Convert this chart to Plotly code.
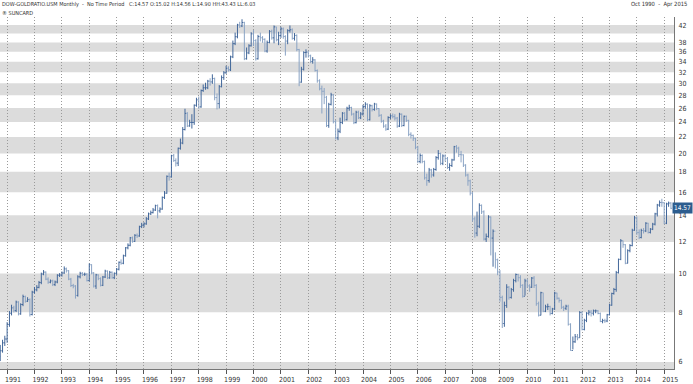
import math
import pandas as pd
import plotly.graph_objects as go

# ---------------- data (monthly, Oct 1990 .. Apr 2015) ----------------
dates = pd.date_range("1990-10-01", "2015-04-01", freq="MS")

opens = [6.20, 6.40, 6.70,
 6.85, 7.45, 7.95, 8.20, 8.07, 8.48, 7.92, 8.36, 8.75, 8.52, 8.60, 7.89,
 8.98, 9.10, 9.23, 9.49, 9.97, 10.08, 9.68, 9.51, 9.58, 9.38, 9.52, 9.90,
 9.91, 10.03, 10.27, 10.16, 9.68, 9.33, 9.30, 8.81, 9.81, 10.01, 9.95, 9.96,
 9.60, 10.52, 10.03, 9.30, 9.92, 9.71, 9.34, 9.80, 10.14, 9.75, 10.07, 9.76,
 10.01, 10.25, 10.67, 10.61, 11.08, 11.60, 11.77, 12.29, 12.04, 12.47, 12.42, 13.11,
 13.22, 13.32, 13.71, 14.11, 14.21, 14.43, 14.80, 14.36, 14.51, 15.52, 15.91, 17.53,
 17.47, 19.75, 19.21, 18.92, 20.61, 21.25, 22.97, 25.22, 23.45, 23.93, 23.93, 26.43,
 27.27, 26.18, 28.77, 29.24, 29.24, 30.38, 30.24, 30.84, 27.62, 26.68, 29.42, 31.01,
 31.88, 32.72, 32.42, 34.95, 37.72, 39.26, 42.03, 41.78, 42.63, 34.57, 35.76, 37.25,
 39.92, 38.39, 34.57, 39.29, 39.03, 38.68, 36.15, 37.99, 40.49, 39.01, 41.56, 38.57,
 39.51, 41.08, 39.31, 38.29, 40.66, 40.87, 38.90, 39.56, 36.45, 30.20, 32.53, 35.83,
 35.92, 35.18, 34.03, 34.34, 32.29, 30.44, 29.07, 28.65, 27.68, 23.50, 26.57, 28.06,
 24.04, 21.89, 22.74, 23.93, 25.24, 24.31, 25.97, 26.08, 25.11, 23.90, 25.39, 24.58,
 25.13, 26.22, 26.59, 24.31, 26.35, 25.79, 26.62, 25.93, 24.94, 24.11, 23.43, 23.02,
 24.62, 24.86, 24.75, 24.54, 23.43, 25.10, 23.51, 24.80, 24.21, 22.34, 22.21, 21.83,
 20.73, 19.09, 19.77, 19.09, 17.38, 17.10, 18.19, 17.67, 18.24, 19.53, 20.00, 18.89,
 19.72, 19.42, 18.45, 18.66, 19.27, 20.81, 20.63, 19.87, 19.85, 18.70, 17.66, 17.08,
 15.91, 13.71, 12.63, 13.14, 14.82, 14.28, 12.20, 12.39, 13.86, 12.27, 12.77, 10.83,
 10.09, 8.71, 7.49, 8.31, 9.24, 8.71, 9.11, 9.60, 9.94, 9.76, 9.34, 8.77,
 9.58, 9.31, 9.24, 9.74, 9.34, 8.40, 7.86, 8.95, 8.04, 8.25, 8.26, 7.94,
 8.15, 8.93, 8.67, 8.56, 8.23, 8.18, 8.28, 7.46, 6.41, 6.74, 6.94, 6.90,
 7.98, 7.24, 7.63, 7.95, 8.00, 7.95, 8.06, 8.06, 7.94, 7.58, 7.62, 7.60,
 7.88, 8.33, 8.91, 9.12, 10.05, 10.85, 12.08, 11.81, 10.61, 11.41, 11.75, 12.84,
 13.79, 12.66, 12.31, 12.82, 12.79, 13.37, 12.68, 12.92, 13.30, 14.11, 14.85, 15.07,
 15.05, 13.37, 14.95, 15.02]

highs = [6.62, 6.82, 6.98,
 7.55, 8.05, 8.35, 8.30, 8.55, 8.52, 8.42, 8.85, 8.80, 8.72, 8.66, 9.05,
 9.25, 9.35, 9.58, 10.05, 10.20, 10.12, 9.78, 9.66, 9.65, 9.60, 9.96, 10.02,
 10.12, 10.42, 10.35, 10.20, 9.75, 9.42, 9.35, 9.90, 10.10, 10.08, 10.05, 10.02,
 10.60, 10.55, 10.08, 9.98, 9.95, 9.78, 9.86, 10.22, 10.18, 10.15, 10.12, 10.06,
 10.32, 10.72, 10.85, 11.15, 11.65, 11.90, 12.35, 12.38, 12.55, 12.60, 13.18, 13.40,
 13.45, 13.85, 14.22, 14.38, 14.60, 14.88, 14.90, 14.65, 15.60, 16.10, 17.62, 17.90,
 19.85, 19.95, 19.45, 20.70, 21.80, 23.30, 25.90, 25.40, 24.30, 25.10, 26.55, 27.60,
 27.80, 28.95, 29.80, 30.10, 30.60, 30.90, 31.60, 31.00, 28.30, 29.70, 31.40, 32.20,
 33.20, 33.10, 35.20, 38.40, 40.20, 42.30, 42.80, 43.43, 42.80, 36.90, 37.60, 40.30,
 40.80, 38.70, 39.70, 40.20, 39.40, 38.90, 38.40, 40.80, 40.90, 41.90, 41.60, 40.40,
 41.60, 41.40, 39.60, 41.00, 41.90, 41.20, 40.10, 39.80, 36.60, 33.00, 36.10, 36.50,
 36.20, 35.40, 34.90, 34.50, 32.50, 30.70, 29.60, 29.20, 27.90, 26.80, 28.40, 28.20,
 24.30, 23.10, 24.60, 25.40, 25.40, 26.20, 26.50, 26.20, 25.30, 25.60, 25.60, 25.40,
 26.50, 26.90, 26.70, 26.60, 26.50, 26.80, 26.70, 26.00, 25.10, 24.30, 23.70, 24.80,
 25.10, 25.20, 25.10, 24.70, 25.30, 25.20, 24.90, 24.90, 24.30, 22.60, 22.30, 21.90,
 20.90, 20.00, 19.90, 19.20, 17.80, 18.40, 18.30, 18.40, 19.70, 20.40, 20.10, 19.90,
 19.90, 19.60, 18.90, 19.40, 20.90, 21.00, 20.80, 20.30, 19.90, 18.80, 17.80, 17.20,
 16.00, 13.90, 14.30, 15.00, 14.90, 14.40, 12.60, 14.00, 13.90, 12.90, 11.30, 10.90,
 10.20, 8.80, 8.50, 9.40, 9.30, 9.20, 9.70, 10.00, 9.98, 9.90, 9.40, 9.70,
 9.70, 9.40, 9.80, 9.85, 9.40, 8.50, 9.00, 8.95, 8.35, 8.40, 8.30, 8.20,
 9.00, 8.95, 8.70, 8.60, 8.30, 8.35, 8.35, 7.50, 6.95, 7.05, 7.05, 8.05,
 8.05, 7.70, 8.00, 8.10, 8.10, 8.12, 8.12, 8.10, 7.98, 7.70, 7.70, 7.92,
 8.40, 8.95, 9.20, 10.15, 10.90, 12.20, 12.10, 11.85, 11.50, 11.85, 12.95, 13.95,
 13.90, 12.90, 12.95, 13.00, 13.45, 13.40, 13.00, 13.40, 14.20, 14.95, 15.25, 15.40,
 15.10, 15.05, 15.15, 15.10]

lows = [6.03, 6.33, 6.58,
 6.70, 7.35, 7.85, 7.98, 8.00, 7.85, 7.88, 8.28, 8.45, 8.48, 7.80, 7.85,
 8.90, 9.02, 9.18, 9.40, 9.90, 9.62, 9.42, 9.45, 9.30, 9.30, 9.45, 9.80,
 9.82, 9.98, 10.05, 9.62, 9.25, 9.18, 8.65, 8.75, 9.72, 9.85, 9.86, 9.55,
 9.55, 9.95, 9.22, 9.15, 9.62, 9.28, 9.30, 9.74, 9.68, 9.70, 9.70, 9.68,
 9.92, 10.18, 10.52, 10.55, 11.02, 11.50, 11.70, 11.95, 12.00, 12.28, 12.36, 13.00,
 13.05, 13.25, 13.62, 14.02, 14.15, 14.35, 13.75, 14.20, 14.45, 15.38, 15.85, 17.10,
 17.40, 19.05, 18.55, 18.60, 20.45, 21.10, 22.85, 23.30, 23.35, 23.10, 23.60, 26.20,
 25.90, 26.05, 28.55, 28.90, 29.00, 29.60, 29.90, 27.20, 25.80, 25.95, 29.30, 30.60,
 31.70, 32.10, 32.20, 34.70, 37.40, 38.90, 41.30, 41.50, 34.30, 34.40, 35.50, 37.10,
 37.20, 34.20, 34.40, 38.20, 37.90, 35.90, 35.80, 37.80, 38.60, 37.80, 38.20, 37.40,
 39.00, 38.80, 35.20, 37.60, 40.20, 38.60, 38.40, 36.10, 29.50, 30.10, 32.30, 34.80,
 34.80, 33.70, 33.60, 32.10, 30.10, 28.80, 25.20, 26.60, 23.30, 23.20, 26.40, 23.80,
 21.70, 21.60, 22.50, 23.70, 24.10, 24.20, 25.60, 24.90, 23.70, 23.80, 24.40, 24.40,
 24.90, 25.90, 24.10, 24.20, 25.50, 25.60, 25.70, 24.70, 23.90, 23.20, 22.80, 22.90,
 24.40, 24.50, 24.20, 23.20, 23.30, 23.30, 23.40, 24.00, 22.10, 21.80, 21.50, 20.50,
 18.90, 18.90, 18.90, 17.20, 16.60, 16.90, 17.40, 17.50, 18.10, 19.30, 18.70, 18.70,
 19.10, 18.30, 18.10, 18.50, 19.20, 20.10, 19.60, 19.00, 18.50, 17.50, 16.60, 15.70,
 13.50, 12.30, 12.40, 13.00, 14.10, 12.10, 12.00, 12.30, 11.10, 10.40, 10.30, 9.90,
 8.50, 7.30, 7.35, 8.20, 8.60, 8.65, 9.00, 9.50, 9.55, 9.20, 8.70, 8.80,
 9.20, 9.00, 9.20, 9.20, 8.30, 7.80, 7.85, 8.00, 8.00, 8.10, 7.85, 7.90,
 8.10, 8.60, 8.45, 8.15, 8.05, 8.10, 7.40, 6.40, 6.45, 6.70, 6.80, 6.90,
 7.20, 7.20, 7.55, 7.85, 7.80, 7.85, 7.95, 7.90, 7.55, 7.50, 7.52, 7.55,
 7.85, 8.30, 8.85, 9.00, 10.00, 10.80, 11.60, 10.55, 10.60, 11.30, 11.70, 12.80,
 12.50, 12.20, 12.25, 12.60, 12.70, 12.60, 12.60, 12.85, 13.20, 13.90, 14.70, 14.70,
 13.30, 13.30, 14.70, 14.50]

closes = [6.40, 6.70, 6.85,
 7.45, 7.95, 8.20, 8.07, 8.48, 7.92, 8.36, 8.75, 8.52, 8.60, 7.89, 8.98,
 9.10, 9.23, 9.49, 9.97, 10.08, 9.68, 9.51, 9.58, 9.38, 9.52, 9.90, 9.91,
 10.03, 10.27, 10.16, 9.68, 9.33, 9.30, 8.81, 9.81, 10.01, 9.95, 9.96, 9.60,
 10.52, 10.03, 9.30, 9.92, 9.71, 9.34, 9.80, 10.14, 9.75, 10.07, 9.76, 10.01,
 10.25, 10.67, 10.61, 11.08, 11.60, 11.77, 12.29, 12.04, 12.47, 12.42, 13.11, 13.22,
 13.32, 13.71, 14.11, 14.21, 14.43, 14.80, 14.36, 14.51, 15.52, 15.91, 17.53, 17.47,
 19.75, 19.21, 18.92, 20.61, 21.25, 22.97, 25.22, 23.45, 23.93, 23.93, 26.43, 27.27,
 26.18, 28.77, 29.24, 29.24, 30.38, 30.24, 30.84, 27.62, 26.68, 29.42, 31.01, 31.88,
 32.72, 32.42, 34.95, 37.72, 39.26, 42.03, 41.78, 42.63, 34.57, 35.76, 37.25, 39.92,
 38.39, 34.57, 39.29, 39.03, 38.68, 36.15, 37.99, 40.49, 39.01, 41.56, 38.57, 39.51,
 41.08, 39.31, 38.29, 40.66, 40.87, 38.90, 39.56, 36.45, 30.20, 32.53, 35.83, 35.92,
 35.18, 34.03, 34.34, 32.29, 30.44, 29.07, 28.65, 27.68, 23.50, 26.57, 28.06, 24.04,
 21.89, 22.74, 23.93, 25.24, 24.31, 25.97, 26.08, 25.11, 23.90, 25.39, 24.58, 25.13,
 26.22, 26.59, 24.31, 26.35, 25.79, 26.62, 25.93, 24.94, 24.11, 23.43, 23.02, 24.62,
 24.86, 24.75, 24.54, 23.43, 25.10, 23.51, 24.80, 24.21, 22.34, 22.21, 21.83, 20.73,
 19.09, 19.77, 19.09, 17.38, 17.10, 18.19, 17.67, 18.24, 19.53, 20.00, 18.89, 19.72,
 19.42, 18.45, 18.66, 19.27, 20.81, 20.63, 19.87, 19.85, 18.70, 17.66, 17.08, 15.91,
 13.71, 12.63, 13.14, 14.82, 14.28, 12.20, 12.39, 13.86, 12.27, 12.77, 10.83, 10.09,
 8.71, 7.49, 8.31, 9.24, 8.71, 9.11, 9.60, 9.94, 9.76, 9.34, 8.77, 9.58,
 9.31, 9.24, 9.74, 9.34, 8.40, 7.86, 8.95, 8.04, 8.25, 8.26, 7.94, 8.15,
 8.93, 8.67, 8.56, 8.23, 8.18, 8.28, 7.46, 6.41, 6.74, 6.94, 6.90, 7.98,
 7.24, 7.63, 7.95, 8.00, 7.95, 8.06, 8.06, 7.94, 7.58, 7.62, 7.60, 7.88,
 8.33, 8.91, 9.12, 10.05, 10.85, 12.08, 11.81, 10.61, 11.41, 11.75, 12.84, 13.79,
 12.66, 12.31, 12.82, 12.79, 13.37, 12.68, 12.92, 13.30, 14.11, 14.85, 15.07, 15.05,
 13.37, 14.95, 15.02, 14.57]

year_ticks = list(range(1991, 2016))
y_ticks = [6, 8, 10, 12, 14, 16, 18, 20, 22, 24, 26, 28, 30, 32, 34, 36, 38, 42]
band_edges = [(5.0, 6), (8, 10), (12, 14), (16, 18), (20, 22), (24, 26),
              (28, 30), (32, 34), (36, 38), (40, 42)]
last_value = 14.57
header = "DOW-GOLDRATIO.USM Monthly  -  No Time Period   C:14.57 O:15.02 H:14.56 L:14.90 HH:43.43 LL:6.03"
sub_header = "® SUNCARD"
period_text = "Oct 1990  -  Apr 2015"

# ---------------- figure ----------------
FONT = "Liberation Sans Narrow, DejaVu Sans Condensed, Arial Narrow, sans-serif"
DARK = "#42679a"
MID = "#8aa3c4"

fig = go.Figure()
fig.add_trace(go.Ohlc(
    x=dates, open=opens, high=highs, low=lows, close=closes,
    increasing=dict(line=dict(color=DARK, width=1)),
    decreasing=dict(line=dict(color=MID, width=1)),
    tickwidth=0.5, showlegend=False, hoverinfo="skip",
))

for lo, hi in band_edges:
    fig.add_shape(type="rect", xref="paper", x0=0, x1=1, yref="y", y0=lo, y1=hi,
                  fillcolor="#dcdcdc", line=dict(width=0), layer="below")

fig.add_annotation(xref="paper", yref="y", x=693 / 674, y=math.log10(last_value),
                   xanchor="right", yanchor="middle",
                   text=f"{last_value:.2f}", showarrow=False,
                   font=dict(family=FONT, size=6.5, color="white"),
                   bgcolor="#2c5d8f", borderpad=1)

fig.add_annotation(xref="paper", yref="paper", x=0, y=(369 - 5) / 352,
                   xanchor="left", yanchor="middle", text=header, showarrow=False,
                   font=dict(family=FONT, size=5.5, color="#333333"))
fig.add_annotation(xref="paper", yref="paper", x=0, y=(369 - 13) / 352,
                   xanchor="left", yanchor="middle", text=sub_header, showarrow=False,
                   font=dict(family=FONT, size=5.5, color="#333333"))
fig.add_annotation(xref="paper", yref="paper", x=689 / 674, y=(369 - 5) / 352,
                   xanchor="right", yanchor="middle", text=period_text, showarrow=False,
                   font=dict(family=FONT, size=5.8, color="#333333"))

fig.update_layout(
    width=693, height=384,
    margin=dict(l=0, r=19, t=17, b=15, pad=0),
    paper_bgcolor="white", plot_bgcolor="white",
    showlegend=False,
    xaxis=dict(
        type="date", range=["1990-09-28", "2015-05-12"],
        rangeslider=dict(visible=False),
        tickvals=[pd.Timestamp(f"{y}-01-01") for y in year_ticks],
        ticktext=[str(y) for y in year_ticks],
        ticks="outside", ticklen=4, tickcolor="#555555", tickwidth=1,
        ticklabelshift=6, ticklabelstandoff=0,
        showgrid=True, gridcolor="#9a9a9a", griddash="1px,2px", gridwidth=1,
        showline=True, linecolor="#777777", linewidth=1,
        tickfont=dict(family=FONT, size=7, color="#333333"),
        zeroline=False, fixedrange=True,
    ),
    yaxis=dict(
        type="log", side="right",
        range=[math.log10(5.76), math.log10(44.0)],
        tickvals=y_ticks, ticktext=[str(v) for v in y_ticks],
        ticks="", showgrid=False, zeroline=False,
        showline=True, linecolor="#777777", linewidth=1,
        tickfont=dict(family=FONT, size=7, color="#333333"),
        ticklabelstandoff=2,
    ),
)

fig.write_html("out.html")
